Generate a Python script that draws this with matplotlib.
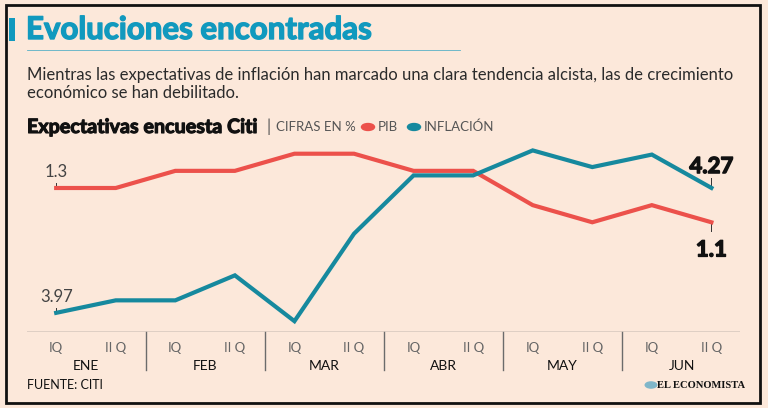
import matplotlib.pyplot as plt
import matplotlib.patheffects as pe
from matplotlib.patches import Rectangle, Circle
from matplotlib.lines import Line2D

# datos (expectativas encuesta Citi, cifras en %)
quincenas = ["IQ", "II Q"] * 6
meses = ["ENE", "FEB", "MAR", "ABR", "MAY", "JUN"]
pib = [1.3, 1.3, 1.4, 1.4, 1.5, 1.5, 1.4, 1.4, 1.2, 1.1, 1.2, 1.1]
inflacion = [3.97, 4.00, 4.00, 4.06, 3.95, 4.16, 4.30, 4.30, 4.36, 4.32, 4.35, 4.27]

BG = "#FCE8DA"
RED = "#EC514B"
TEAL = "#16899E"
TITLE = "#1199BE"
TXT = "#2b2b2b"

plt.rcParams['font.family'] = ['Lato', 'DejaVu Sans']

W, H = 768, 408
fig = plt.figure(figsize=(W / 100, H / 100), dpi=100, facecolor=BG)

def fx(px):
    return px / W

def fy(py):
    return 1 - py / H

def thick(color, w=0.9):
    return [pe.withStroke(linewidth=w, foreground=color)]

# marco
fig.add_artist(Rectangle((fx(6), fy(403)), fx(754), 398 / H, transform=fig.transFigure,
                         fill=False, edgecolor="#111111", linewidth=2))
fig.add_artist(Rectangle((fx(9), fy(41)), fx(6), 23 / H, transform=fig.transFigure,
                         facecolor=TITLE, edgecolor="none"))
fig.text(fx(26), fy(30), "Evoluciones encontradas", fontsize=22.5, fontweight="bold",
         color=TITLE, va="center", ha="left", path_effects=thick(TITLE, 1.0))
fig.add_artist(Line2D([fx(27), fx(460)], [fy(50), fy(50)], transform=fig.transFigure,
                      color=TITLE, linewidth=0.6, alpha=0.7))
fig.text(fx(27), fy(75), "Mientras las expectativas de inflación han marcado una clara tendencia alcista, las de crecimiento",
         fontsize=12.0, color=TXT, va="center", ha="left")
fig.text(fx(27), fy(93), "económico se han debilitado.", fontsize=12.0, color=TXT, va="center", ha="left")

fig.text(fx(27), fy(127), "Expectativas encuesta Citi", fontsize=14.2, fontweight="bold",
         color="#111111", va="center", ha="left", path_effects=thick("#111111", 0.8))
fig.text(fx(266), fy(127), "|", fontsize=12, color="#555555", va="center", ha="left")
fig.text(fx(276), fy(127), "CIFRAS EN %", fontsize=9.5, color="#555555", va="center", ha="left")
fig.add_artist(Circle((fx(368), fy(127)), 0.0085, transform=fig.transFigure, color=RED))
fig.text(fx(378), fy(127), "PIB", fontsize=9.5, color="#555555", va="center", ha="left")
fig.add_artist(Circle((fx(414), fy(127)), 0.0085, transform=fig.transFigure, color=TEAL))
fig.text(fx(424), fy(127), "INFLACIÓN", fontsize=9.5, color="#555555", va="center", ha="left")

# ejes: area de trazo de y=140 a y=332 px
left, right, top, bottom = 27, 740, 140, 332
rect = [fx(left), fy(bottom), fx(right - left), (bottom - top) / H]
ax = fig.add_axes(rect)
ax2 = fig.add_axes(rect, sharex=ax)
for a in (ax, ax2):
    a.set_facecolor("none")
    for s in a.spines.values():
        s.set_visible(False)
    a.set_yticks([])
    a.tick_params(bottom=False, labelbottom=False)

x = list(range(len(pib)))
ax.set_xlim(-0.49, 11.48)
ax.set_ylim(0.46, 1.58)
ax2.set_ylim(3.924, 4.385)

ax.plot(x, pib, color=RED, linewidth=3, solid_joinstyle="miter", zorder=3)
ax2.plot(x, inflacion, color=TEAL, linewidth=3, solid_joinstyle="miter", zorder=3)
ax.axhline(0.46, color="#6b6b6b", linewidth=1)

# etiquetas de inicio y fin
ax.plot([0, 0], [pib[0], pib[0] + 0.03], color="#333333", linewidth=0.7)
ax.text(0, pib[0] + 0.045, "1.3", fontsize=12, color="#444444", ha="center", va="bottom")
ax2.plot([0, 0], [inflacion[0], inflacion[0] + 0.012], color="#333333", linewidth=0.7)
ax2.text(0, inflacion[0] + 0.018, "3.97", fontsize=12, color="#444444", ha="center", va="bottom")
ax2.plot([11, 11], [inflacion[-1], inflacion[-1] + 0.024], color="#333333", linewidth=0.7)
ax2.text(11, inflacion[-1] + 0.026, "4.27", fontsize=16, fontweight="bold", color="#111111",
         ha="center", va="bottom", path_effects=thick("#111111", 1.0))
ax.plot([11, 11], [pib[-1], pib[-1] - 0.05], color="#333333", linewidth=0.7)
ax.text(11, pib[-1] - 0.1, "1.1", fontsize=16, fontweight="bold", color="#111111",
        ha="center", va="top", path_effects=thick("#111111", 1.0))

# eje x con quincenas y meses
for i, q in enumerate(quincenas):
    ax.annotate(q, (i, 0), xycoords=("data", "axes fraction"), xytext=(0, -16),
                textcoords="offset pixels", ha="center", va="center", fontsize=9.5, color="#666666")
for m, mes in enumerate(meses):
    ax.annotate(mes, (2 * m + 0.5, 0), xycoords=("data", "axes fraction"), xytext=(0, -34),
                textcoords="offset pixels", ha="center", va="center", fontsize=10, color="#111111")
for m in range(1, 6):
    sx = 2 * m - 0.5
    ax.plot([sx, sx], [0, -38 / 192], color="#6b6b6b", linewidth=1, clip_on=False,
            transform=ax.get_xaxis_transform())

fig.text(fx(27), fy(385), "FUENTE: CITI", fontsize=9, color="#111111", va="center", ha="left")
fig.add_artist(Circle((fx(651), fy(385)), 0.0075, transform=fig.transFigure, color="#7fb6c9"))
fig.text(fx(657), fy(385), "EL ECONOMISTA", fontsize=7.6, fontweight="bold", family="Liberation Serif",
         color="#111111", va="center", ha="left")

fig.savefig("out.png", dpi=100, facecolor=BG)
